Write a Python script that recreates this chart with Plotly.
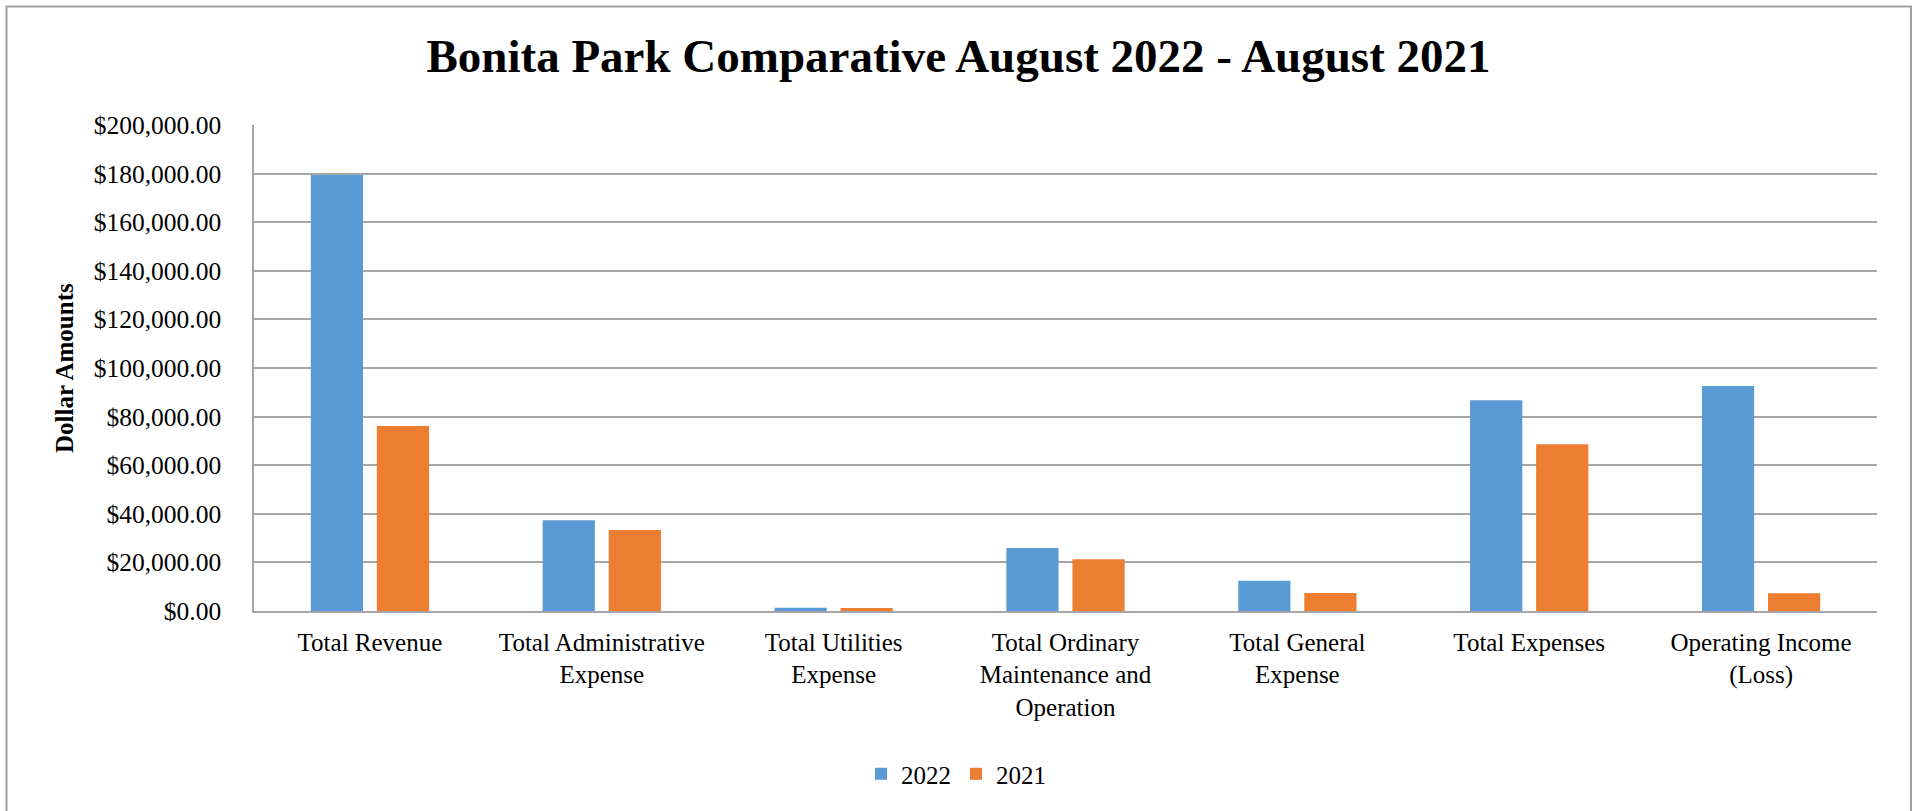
import plotly.graph_objects as go

categories = [
    "Total Revenue",
    "Total Administrative<br>Expense",
    "Total Utilities<br>Expense",
    "Total Ordinary<br>Maintenance and<br>Operation",
    "Total General<br>Expense",
    "Total Expenses",
    "Operating Income<br>(Loss)",
]
values_2022 = [179400, 37300, 1300, 25900, 12500, 86700, 92600]
values_2021 = [76100, 33300, 1200, 21300, 7400, 68600, 7300]
y_ticks = [0, 20000, 40000, 60000, 80000, 100000, 120000, 140000, 160000, 180000, 200000]

BLUE = "#5B9BD5"
ORANGE = "#ED7D31"
GRID = "#A6A6A6"
FONT = "Liberation Serif"

fig = go.Figure()
fig.add_trace(go.Bar(name="2022", x=categories, y=values_2022, marker=dict(color=BLUE, line=dict(width=0))))
fig.add_trace(go.Bar(name="2021", x=categories, y=values_2021, marker=dict(color=ORANGE, line=dict(width=0))))

fig.update_layout(
    width=1917, height=811,
    margin=dict(l=254, r=40, t=125, b=200),
    paper_bgcolor="white", plot_bgcolor="white",
    barmode="group", bargap=0.43, bargroupgap=0.21,
    font=dict(family=FONT, color="black", size=25),
    title=dict(
        text="<b>Bonita Park Comparative August 2022 - August 2021</b>",
        font=dict(family=FONT, size=47, color="black"),
        x=0.5, xref="container", xanchor="center",
        y=1 - 56 / 811, yref="container", yanchor="middle",
    ),
    showlegend=True,
    legend=dict(
        orientation="h", x=(956 - 254) / 1623, xanchor="center",
        y=(611 - 774) / 486, yanchor="middle",
        font=dict(family=FONT, size=25, color="black"), traceorder="normal",
        itemsizing="constant",
    ),
)

fig.update_yaxes(
    range=[0, 200000], tickvals=y_ticks, tickformat="$,.2f",
    showgrid=True, gridcolor=GRID, gridwidth=1.5,
    showline=True, linecolor=GRID, linewidth=1.5,
    zeroline=False, ticks="", ticklabelstandoff=26,
    tickfont=dict(family=FONT, size=25.5),
)
fig.update_xaxes(
    showline=True, linecolor=GRID, linewidth=1.5,
    showgrid=False, ticks="", ticklabelstandoff=8,
    tickfont=dict(family=FONT, size=25),
    tickangle=0,
)

fig.add_annotation(
    text="<b>Dollar Amounts</b>", textangle=-90,
    x=(64 - 254) / 1623, xref="paper", xanchor="center",
    y=0.5, yref="paper", yanchor="middle",
    showarrow=False, font=dict(family=FONT, size=25, color="black"),
)

# outer chart border
fig.add_shape(
    type="rect", xref="paper", yref="paper",
    x0=(6.5 - 254) / 1623, x1=(1911 - 254) / 1623,
    y0=(611 - 830) / 486, y1=(611 - 6.5) / 486,
    line=dict(color="#A0A0A0", width=2), fillcolor="rgba(0,0,0,0)", layer="below",
)

fig.write_html("out.html")
